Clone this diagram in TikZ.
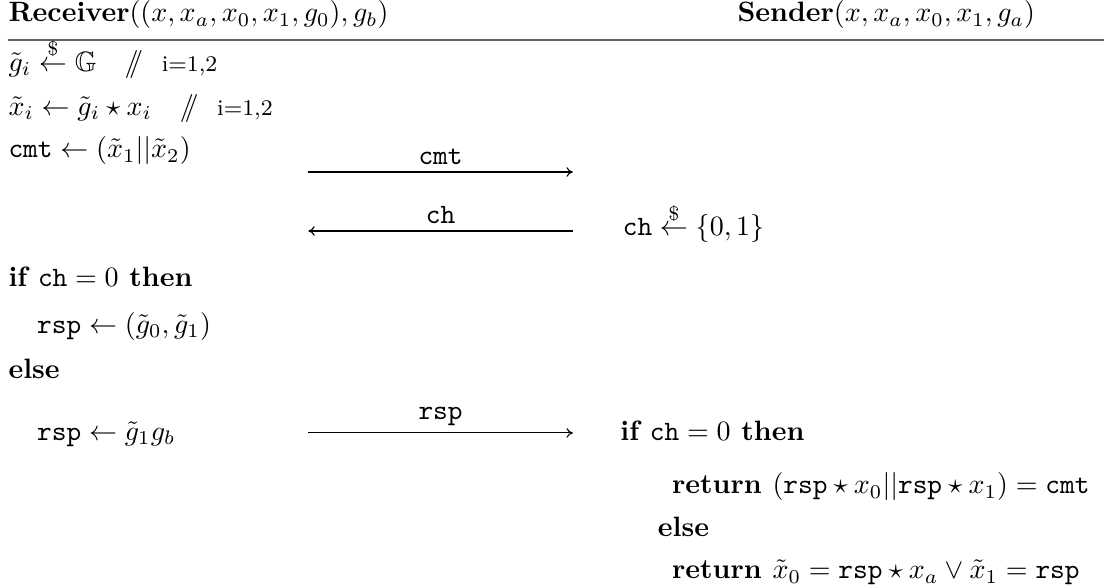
\documentclass[tikz,border=0pt]{standalone}
\usepackage{amsmath,amssymb}
\usetikzlibrary{positioning, arrows.meta, calc}
\newcommand{\smp}{\stackrel{\$}{\leftarrow}}
\newcommand{\cmnt}[1]{\quad$/\!\!/$\ \ {\footnotesize #1}}
\tikzset{
  line/.style={anchor=base west, inner sep=0pt},
  head/.style={line, font=\normalsize},
  headrule/.style={line width=0.8pt, draw=black!60},
  msg/.style={-{To[length=0.8mm, width=1.2mm]}, line width=0.4pt},
  msglabel/.style={above, inner sep=2.5pt, font=\ttfamily},
}

\begin{document}
\begin{tikzpicture}
\useasboundingbox (0,0) rectangle (14.02,-7.354);

%% ====================  HEADER  ====================

\node[head] (recv) at (0.10,-0.276) {\textbf{Receiver}$((x,x_a,x_0,x_1,g_0),g_b)$};
\node[head] (send) at (9.25,-0.276) {\textbf{Sender}$(x,x_a,x_0,x_1,g_a)$};
\coordinate (rule_l) at (0.10,-0.502);
\coordinate (rule_r) at (13.86,-0.502);
\draw[headrule] (rule_l) -- (rule_r);

%% ====================  RECEIVER  ====================

\node[line] (r_g)   at (0.10,-0.900) {$\tilde{g}_i \smp \mathbb{G}$\cmnt{i=1,2}};
\node[line] (r_x)   at (0.10,-1.445) {$\tilde{x}_i \leftarrow \tilde{g}_i \star x_i$\cmnt{i=1,2}};
\node[line] (r_cmt) at (0.10,-1.983) {$\texttt{cmt} \leftarrow (\tilde{x}_1 || \tilde{x}_2)$};
\node[line] (r_if)  at (0.10,-3.602) {$\textbf{if } \texttt{ch} = 0 \textbf{ then}$};
\node[line] (r_rs0) at (0.46,-4.180) {$\texttt{rsp} \leftarrow (\tilde{g}_0, \tilde{g}_1)$};
\node[line] (r_el)  at (0.10,-4.750) {\textbf{else}};
\node[line] (r_rs1) at (0.46,-5.530) {$\texttt{rsp} \leftarrow \tilde{g}_1 g_b$};

%% ====================  SENDER  ====================

\node[line] (s_ch)  at (7.81,-2.962) {$\texttt{ch} \smp \{0,1\}$};
\node[line] (s_if)  at (7.78,-5.530) {$\textbf{if } \texttt{ch} = 0 \textbf{ then}$};
\node[line] (s_r0)  at (8.43,-6.200) {$\textbf{return } (\texttt{rsp} \star x_0 || \texttt{rsp} \star x_1) = \texttt{cmt}$};
\node[line] (s_el)  at (8.25,-6.740) {\textbf{else}};
\node[line] (s_r1)  at (8.43,-7.265) {$\textbf{return } \tilde{x}_0 = \texttt{rsp} \star x_a \lor \tilde{x}_1 = \texttt{rsp}$};

%% ====================  MESSAGES  ====================

\coordinate (cmt_l) at (3.87,-2.159);
\coordinate (cmt_r) at (7.19,-2.159);
\coordinate (ch_l)  at (3.87,-2.899);
\coordinate (ch_r)  at (7.19,-2.899);
\coordinate (rsp_l) at (3.87,-5.434);
\coordinate (rsp_r) at (7.19,-5.434);

\draw[msg] (cmt_l) -- node[msglabel] (m_cmt) {cmt} (cmt_r);
\draw[msg] (ch_r)  -- node[msglabel] (m_ch)  {ch}  (ch_l);
\draw[msg] (rsp_l) -- node[msglabel] (m_rsp) {rsp} (rsp_r);

\end{tikzpicture}
\end{document}
